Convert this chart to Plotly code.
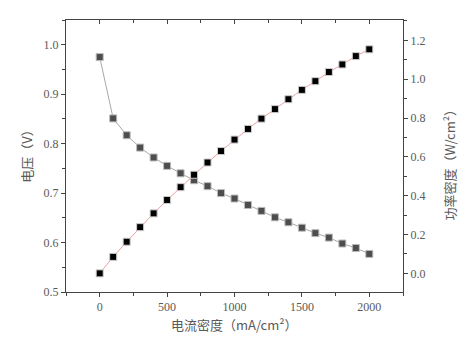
import plotly.graph_objects as go

current = [0, 100, 200, 300, 400, 500, 600, 700, 800, 900, 1000,
           1100, 1200, 1300, 1400, 1500, 1600, 1700, 1800, 1900, 2000]
voltage = [0.975, 0.851, 0.817, 0.792, 0.772, 0.755, 0.740, 0.726, 0.714, 0.700, 0.689,
           0.676, 0.664, 0.651, 0.641, 0.630, 0.619, 0.610, 0.598, 0.589, 0.577]
power = [0.000, 0.085, 0.163, 0.238, 0.309, 0.378, 0.444, 0.508, 0.571, 0.630, 0.689,
         0.744, 0.797, 0.846, 0.897, 0.945, 0.990, 1.037, 1.076, 1.119, 1.154]

xlabel = "电流密度（mA/cm²）"
ylabel = "电压（V）"
y2label = "功率密度（W/cm²）"

TXT = "#5a5a5a"
AX = "#444444"
tickfont = dict(family="Liberation Serif, DejaVu Serif, serif", size=12, color=TXT)
cjk = dict(family="Noto Sans CJK SC, sans-serif", size=13, color=TXT)

fig = go.Figure()
fig.add_trace(go.Scatter(
    x=current, y=voltage, mode="lines+markers", yaxis="y", xaxis="x",
    line=dict(color="#a8a8a8", width=1),
    marker=dict(symbol="square", size=7, color="#4d4d4d", line=dict(color="#bbbbbb", width=1)),
    showlegend=False))
fig.add_trace(go.Scatter(
    x=current, y=power, mode="lines+markers", yaxis="y2", xaxis="x",
    line=dict(color="#f2a0a0", width=1),
    marker=dict(symbol="square", size=7, color="#000000", line=dict(color="#cccccc", width=1)),
    showlegend=False))

fig.update_layout(
    width=459, height=345,
    margin=dict(l=66, r=56, t=20, b=53),
    plot_bgcolor="white", paper_bgcolor="white",
    xaxis=dict(range=[-250, 2250], tickvals=[0, 500, 1000, 1500, 2000],
               ticks="outside", ticklen=4, tickcolor=AX, showline=True, linecolor=AX, linewidth=1,
               showgrid=False, zeroline=False, tickfont=tickfont,
               minor=dict(tickvals=[-250, 250, 750, 1250, 1750, 2250], ticks="outside", ticklen=3, tickcolor=AX)),
    xaxis2=dict(range=[-250, 2250], overlaying="x", side="top", anchor="y",
                tickvals=[0, 500, 1000, 1500, 2000], ticks="inside", ticklen=4, tickcolor=AX,
                showticklabels=False, showline=True, linecolor=AX, linewidth=1, showgrid=False, zeroline=False,
                minor=dict(tickvals=[-250, 250, 750, 1250, 1750, 2250], ticks="inside", ticklen=3, tickcolor=AX)),
    yaxis=dict(range=[0.5, 1.05], tickvals=[0.5, 0.6, 0.7, 0.8, 0.9, 1.0], ticktext=["0.5", "0.6", "0.7", "0.8", "0.9", "1.0"],
               ticks="outside", ticklen=4, tickcolor=AX, showline=True, linecolor=AX, linewidth=1,
               showgrid=False, zeroline=False, tickfont=tickfont,
               minor=dict(tickvals=[0.55, 0.65, 0.75, 0.85, 0.95, 1.05], ticks="outside", ticklen=3, tickcolor=AX)),
    yaxis2=dict(range=[-0.096, 1.305], overlaying="y", side="right", anchor="x",
                tickvals=[0, 0.2, 0.4, 0.6, 0.8, 1.0, 1.2], ticktext=["0.0", "0.2", "0.4", "0.6", "0.8", "1.0", "1.2"],
                ticks="outside", ticklen=4, tickcolor=AX, showline=True, linecolor=AX, linewidth=1,
                showgrid=False, zeroline=False, tickfont=tickfont,
                minor=dict(tickvals=[0.1, 0.3, 0.5, 0.7, 0.9, 1.1, 1.3], ticks="outside", ticklen=3, tickcolor=AX)),
    annotations=[
        dict(text=xlabel, xref="paper", yref="paper", x=0.501, y=-0.12, showarrow=False, font=cjk,
             xanchor="center", yanchor="middle"),
        dict(text=ylabel, xref="paper", yref="paper", x=-0.116, y=0.512, showarrow=False, font=cjk,
             textangle=-90, xanchor="center", yanchor="middle"),
        dict(text=y2label, xref="paper", yref="paper", x=1.139, y=0.479, showarrow=False, font=cjk,
             textangle=-90, xanchor="center", yanchor="middle"),
    ],
)
# ensure top axis is drawn: add invisible trace on xaxis2
fig.add_trace(go.Scatter(x=[None], y=[None], xaxis="x2", yaxis="y", showlegend=False, hoverinfo="skip"))

fig.write_html("out.html")
